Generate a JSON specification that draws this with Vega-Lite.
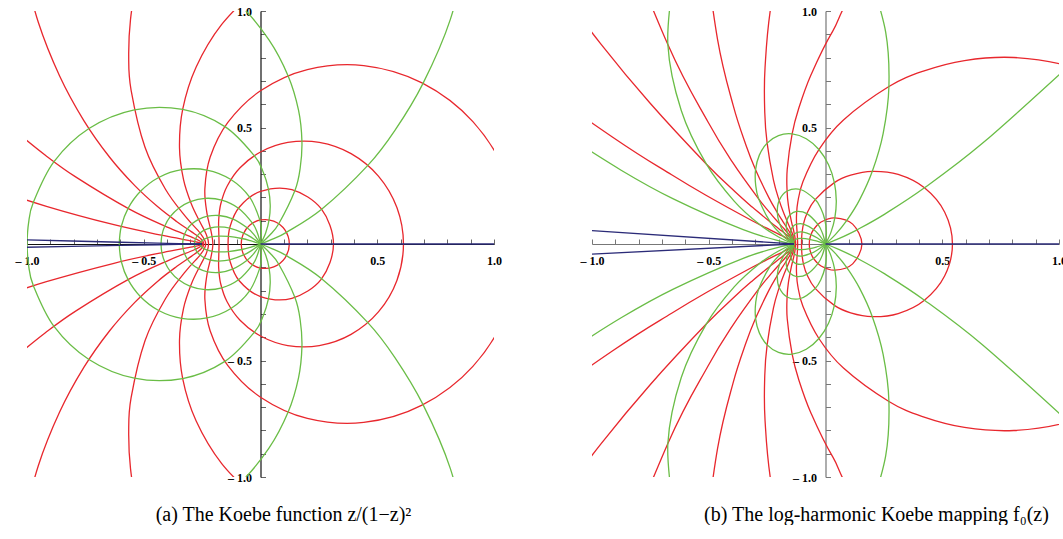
{
"$schema":"https://vega.github.io/schema/vega-lite/v6.json",
"background":"white",
"padding":{"left":15,"top":5,"right":0,"bottom":0},
"autosize":{"type":"pad"},
"spacing":78,
"config":{"view":{"stroke":null}},
"datasets":{
"a_closed":[
{"id":"r1","t":"red","i":0,"x":0.1235,"y":0},{"id":"r1","t":"red","i":1,"x":0.1045,"y":0.0604},{"id":"r1","t":"red","i":2,"x":0.0566,"y":0.0981},{"id":"r1","t":"red","i":3,"x":0,"y":0.1031},{"id":"r1","t":"red","i":4,"x":-0.0464,"y":0.0804},{"id":"r1","t":"red","i":5,"x":-0.0739,"y":0.0427},{"id":"r1","t":"red","i":6,"x":-0.0826,"y":0},{"id":"r1","t":"red","i":7,"x":-0.0739,"y":-0.0427},{"id":"r1","t":"red","i":8,"x":-0.0464,"y":-0.0804},{"id":"r1","t":"red","i":9,"x":0,"y":-0.1031},{"id":"r1","t":"red","i":10,"x":0.0566,"y":-0.0981},{"id":"r1","t":"red","i":11,"x":0.1045,"y":-0.0604},
{"id":"r2","t":"red","i":0,"x":0.3125,"y":0},{"id":"r2","t":"red","i":1,"x":0.2606,"y":0.1504},{"id":"r2","t":"red","i":2,"x":0.1345,"y":0.233},{"id":"r2","t":"red","i":3,"x":0,"y":0.2257},{"id":"r2","t":"red","i":4,"x":-0.0911,"y":0.1579},{"id":"r2","t":"red","i":5,"x":-0.1303,"y":0.0753},{"id":"r2","t":"red","i":6,"x":-0.1389,"y":0},{"id":"r2","t":"red","i":7,"x":-0.1303,"y":-0.0753},{"id":"r2","t":"red","i":8,"x":-0.0911,"y":-0.1579},{"id":"r2","t":"red","i":9,"x":0,"y":-0.2257},{"id":"r2","t":"red","i":10,"x":0.1345,"y":-0.233},{"id":"r2","t":"red","i":11,"x":0.2606,"y":-0.1504},
{"id":"r3","t":"red","i":0,"x":0.6122,"y":0},{"id":"r3","t":"red","i":1,"x":0.5842,"y":0.1565},{"id":"r3","t":"red","i":2,"x":0.505,"y":0.2916},{"id":"r3","t":"red","i":3,"x":0.3879,"y":0.3879},{"id":"r3","t":"red","i":4,"x":0.2518,"y":0.4361},{"id":"r3","t":"red","i":5,"x":0.1168,"y":0.4358},{"id":"r3","t":"red","i":6,"x":0,"y":0.3949},{"id":"r3","t":"red","i":7,"x":-0.0876,"y":0.3271},{"id":"r3","t":"red","i":8,"x":-0.1431,"y":0.2479},{"id":"r3","t":"red","i":9,"x":-0.1705,"y":0.1705},{"id":"r3","t":"red","i":10,"x":-0.179,"y":0.1033},{"id":"r3","t":"red","i":11,"x":-0.1786,"y":0.0479},{"id":"r3","t":"red","i":12,"x":-0.1775,"y":0},{"id":"r3","t":"red","i":13,"x":-0.1786,"y":-0.0479},{"id":"r3","t":"red","i":14,"x":-0.179,"y":-0.1033},{"id":"r3","t":"red","i":15,"x":-0.1705,"y":-0.1705},{"id":"r3","t":"red","i":16,"x":-0.1431,"y":-0.2479},{"id":"r3","t":"red","i":17,"x":-0.0876,"y":-0.3271},{"id":"r3","t":"red","i":18,"x":0,"y":-0.3949},{"id":"r3","t":"red","i":19,"x":0.1168,"y":-0.4358},{"id":"r3","t":"red","i":20,"x":0.2518,"y":-0.4361},{"id":"r3","t":"red","i":21,"x":0.3879,"y":-0.3879},{"id":"r3","t":"red","i":22,"x":0.505,"y":-0.2916},{"id":"r3","t":"red","i":23,"x":0.5842,"y":-0.1565},
{"id":"r4","t":"red","i":0,"x":1.1111,"y":0},{"id":"r4","t":"red","i":1,"x":1.0583,"y":0.2836},{"id":"r4","t":"red","i":2,"x":0.9096,"y":0.5252},{"id":"r4","t":"red","i":3,"x":0.6917,"y":0.6917},{"id":"r4","t":"red","i":4,"x":0.4422,"y":0.7659},{"id":"r4","t":"red","i":5,"x":0.2006,"y":0.7486},{"id":"r4","t":"red","i":6,"x":0,"y":0.6576},{"id":"r4","t":"red","i":7,"x":-0.1398,"y":0.5218},{"id":"r4","t":"red","i":8,"x":-0.2154,"y":0.3731},{"id":"r4","t":"red","i":9,"x":-0.2382,"y":0.2382},{"id":"r4","t":"red","i":10,"x":-0.2294,"y":0.1324},{"id":"r4","t":"red","i":11,"x":-0.2121,"y":0.0568},{"id":"r4","t":"red","i":12,"x":-0.2041,"y":0},{"id":"r4","t":"red","i":13,"x":-0.2121,"y":-0.0568},{"id":"r4","t":"red","i":14,"x":-0.2294,"y":-0.1324},{"id":"r4","t":"red","i":15,"x":-0.2382,"y":-0.2382},{"id":"r4","t":"red","i":16,"x":-0.2154,"y":-0.3731},{"id":"r4","t":"red","i":17,"x":-0.1398,"y":-0.5218},{"id":"r4","t":"red","i":18,"x":0,"y":-0.6576},{"id":"r4","t":"red","i":19,"x":0.2006,"y":-0.7486},{"id":"r4","t":"red","i":20,"x":0.4422,"y":-0.7659},{"id":"r4","t":"red","i":21,"x":0.6917,"y":-0.6917},{"id":"r4","t":"red","i":22,"x":0.9096,"y":-0.5252},{"id":"r4","t":"red","i":23,"x":1.0583,"y":-0.2836}
],
"a_open":[
{"id":"r5","t":"red","i":0,"x":0,"y":1.1111},{"id":"r5","t":"red","i":1,"x":-0.1661,"y":0.9422},{"id":"r5","t":"red","i":2,"x":-0.276,"y":0.7584},{"id":"r5","t":"red","i":3,"x":-0.3333,"y":0.5774},{"id":"r5","t":"red","i":4,"x":-0.3469,"y":0.4134},{"id":"r5","t":"red","i":5,"x":-0.3296,"y":0.2765},{"id":"r5","t":"red","i":6,"x":-0.2956,"y":0.1707},{"id":"r5","t":"red","i":7,"x":-0.2592,"y":0.0943},{"id":"r5","t":"red","i":8,"x":-0.2321,"y":0.0409},{"id":"r5","t":"red","i":9,"x":-0.2222,"y":0},{"id":"r5","t":"red","i":10,"x":-0.2321,"y":-0.0409},{"id":"r5","t":"red","i":11,"x":-0.2592,"y":-0.0943},{"id":"r5","t":"red","i":12,"x":-0.2956,"y":-0.1707},{"id":"r5","t":"red","i":13,"x":-0.3296,"y":-0.2765},{"id":"r5","t":"red","i":14,"x":-0.3469,"y":-0.4134},{"id":"r5","t":"red","i":15,"x":-0.3333,"y":-0.5774},{"id":"r5","t":"red","i":16,"x":-0.276,"y":-0.7584},{"id":"r5","t":"red","i":17,"x":-0.1661,"y":-0.9422},{"id":"r5","t":"red","i":18,"x":0,"y":-1.1111},
{"id":"r6","t":"red","i":0,"x":-0.4757,"y":1.3071},{"id":"r6","t":"red","i":1,"x":-0.528,"y":1.1322},{"id":"r6","t":"red","i":2,"x":-0.5567,"y":0.9642},{"id":"r6","t":"red","i":3,"x":-0.5644,"y":0.806},{"id":"r6","t":"red","i":4,"x":-0.5543,"y":0.6606},{"id":"r6","t":"red","i":5,"x":-0.4946,"y":0.415},{"id":"r6","t":"red","i":6,"x":-0.407,"y":0.235},{"id":"r6","t":"red","i":7,"x":-0.3199,"y":0.1164},{"id":"r6","t":"red","i":8,"x":-0.2571,"y":0.0453},{"id":"r6","t":"red","i":9,"x":-0.2344,"y":0},{"id":"r6","t":"red","i":10,"x":-0.2571,"y":-0.0453},{"id":"r6","t":"red","i":11,"x":-0.3199,"y":-0.1164},{"id":"r6","t":"red","i":12,"x":-0.407,"y":-0.235},{"id":"r6","t":"red","i":13,"x":-0.4946,"y":-0.415},{"id":"r6","t":"red","i":14,"x":-0.5543,"y":-0.6606},{"id":"r6","t":"red","i":15,"x":-0.5644,"y":-0.806},{"id":"r6","t":"red","i":16,"x":-0.5567,"y":-0.9642},{"id":"r6","t":"red","i":17,"x":-0.528,"y":-1.1322},{"id":"r6","t":"red","i":18,"x":-0.4757,"y":-1.3071},
{"id":"r7","t":"red","i":0,"x":-1.0208,"y":1.2166},{"id":"r7","t":"red","i":1,"x":-0.9516,"y":0.9516},{"id":"r7","t":"red","i":2,"x":-0.8608,"y":0.7223},{"id":"r7","t":"red","i":3,"x":-0.7566,"y":0.5298},{"id":"r7","t":"red","i":4,"x":-0.6469,"y":0.3735},{"id":"r7","t":"red","i":5,"x":-0.5394,"y":0.2515},{"id":"r7","t":"red","i":6,"x":-0.4411,"y":0.1605},{"id":"r7","t":"red","i":7,"x":-0.358,"y":0.0959},{"id":"r7","t":"red","i":8,"x":-0.2949,"y":0.052},{"id":"r7","t":"red","i":9,"x":-0.2556,"y":0.0224},{"id":"r7","t":"red","i":10,"x":-0.2422,"y":0},{"id":"r7","t":"red","i":11,"x":-0.2556,"y":-0.0224},{"id":"r7","t":"red","i":12,"x":-0.2949,"y":-0.052},{"id":"r7","t":"red","i":13,"x":-0.358,"y":-0.0959},{"id":"r7","t":"red","i":14,"x":-0.4411,"y":-0.1605},{"id":"r7","t":"red","i":15,"x":-0.5394,"y":-0.2515},{"id":"r7","t":"red","i":16,"x":-0.6469,"y":-0.3735},{"id":"r7","t":"red","i":17,"x":-0.7566,"y":-0.5298},{"id":"r7","t":"red","i":18,"x":-0.8608,"y":-0.7223},{"id":"r7","t":"red","i":19,"x":-0.9516,"y":-0.9516},{"id":"r7","t":"red","i":20,"x":-1.0208,"y":-1.2166},
{"id":"r8","t":"red","i":0,"x":-1.0624,"y":0.4954},{"id":"r8","t":"red","i":1,"x":-0.9227,"y":0.3822},{"id":"r8","t":"red","i":2,"x":-0.7918,"y":0.2882},{"id":"r8","t":"red","i":3,"x":-0.5635,"y":0.151},{"id":"r8","t":"red","i":4,"x":-0.3909,"y":0.0689},{"id":"r8","t":"red","i":5,"x":-0.2834,"y":0.0248},{"id":"r8","t":"red","i":6,"x":-0.2469,"y":0},{"id":"r8","t":"red","i":7,"x":-0.2834,"y":-0.0248},{"id":"r8","t":"red","i":8,"x":-0.3909,"y":-0.0689},{"id":"r8","t":"red","i":9,"x":-0.5635,"y":-0.151},{"id":"r8","t":"red","i":10,"x":-0.7918,"y":-0.2882},{"id":"r8","t":"red","i":11,"x":-0.9227,"y":-0.3822},{"id":"r8","t":"red","i":12,"x":-1.0624,"y":-0.4954},
{"id":"r9","t":"red","i":0,"x":-1.203,"y":0.2557},{"id":"r9","t":"red","i":1,"x":-0.9168,"y":0.1617},{"id":"r9","t":"red","i":2,"x":-0.6278,"y":0.0827},{"id":"r9","t":"red","i":3,"x":-0.4187,"y":0.0366},{"id":"r9","t":"red","i":4,"x":-0.2917,"y":0.0127},{"id":"r9","t":"red","i":5,"x":-0.2493,"y":0},{"id":"r9","t":"red","i":6,"x":-0.2917,"y":-0.0127},{"id":"r9","t":"red","i":7,"x":-0.4187,"y":-0.0366},{"id":"r9","t":"red","i":8,"x":-0.6278,"y":-0.0827},{"id":"r9","t":"red","i":9,"x":-0.9168,"y":-0.1617},{"id":"r9","t":"red","i":10,"x":-1.203,"y":-0.2557},
{"id":"g20","t":"green","i":0,"x":0,"y":0},{"id":"g20","t":"green","i":1,"x":0.051,"y":0.0207},{"id":"g20","t":"green","i":2,"x":0.1109,"y":0.0501},{"id":"g20","t":"green","i":3,"x":0.2618,"y":0.1489},{"id":"g20","t":"green","i":4,"x":0.4597,"y":0.3372},{"id":"g20","t":"green","i":5,"x":0.575,"y":0.4864},{"id":"g20","t":"green","i":6,"x":0.6961,"y":0.6895},{"id":"g20","t":"green","i":7,"x":0.8131,"y":0.9642},{"id":"g20","t":"green","i":8,"x":0.9066,"y":1.3318},
{"id":"g20m","t":"green","i":0,"x":0,"y":0},{"id":"g20m","t":"green","i":1,"x":0.051,"y":-0.0207},{"id":"g20m","t":"green","i":2,"x":0.1109,"y":-0.0501},{"id":"g20m","t":"green","i":3,"x":0.2618,"y":-0.1489},{"id":"g20m","t":"green","i":4,"x":0.4597,"y":-0.3372},{"id":"g20m","t":"green","i":5,"x":0.575,"y":-0.4864},{"id":"g20m","t":"green","i":6,"x":0.6961,"y":-0.6895},{"id":"g20m","t":"green","i":7,"x":0.8131,"y":-0.9642},{"id":"g20m","t":"green","i":8,"x":0.9066,"y":-1.3318},
{"id":"g40","t":"green","i":0,"x":0,"y":0},{"id":"g40","t":"green","i":1,"x":0.039,"y":0.0374},{"id":"g40","t":"green","i":2,"x":0.0782,"y":0.0867},{"id":"g40","t":"green","i":3,"x":0.1474,"y":0.2293},{"id":"g40","t":"green","i":4,"x":0.17,"y":0.3263},{"id":"g40","t":"green","i":5,"x":0.1774,"y":0.4416},{"id":"g40","t":"green","i":6,"x":0.1628,"y":0.5744},{"id":"g40","t":"green","i":7,"x":0.1184,"y":0.7214},{"id":"g40","t":"green","i":8,"x":0.0362,"y":0.8764},{"id":"g40","t":"green","i":9,"x":-0.0906,"y":1.0291},{"id":"g40","t":"green","i":10,"x":-0.2659,"y":1.1661},
{"id":"g40m","t":"green","i":0,"x":0,"y":0},{"id":"g40m","t":"green","i":1,"x":0.039,"y":-0.0374},{"id":"g40m","t":"green","i":2,"x":0.0782,"y":-0.0867},{"id":"g40m","t":"green","i":3,"x":0.1474,"y":-0.2293},{"id":"g40m","t":"green","i":4,"x":0.17,"y":-0.3263},{"id":"g40m","t":"green","i":5,"x":0.1774,"y":-0.4416},{"id":"g40m","t":"green","i":6,"x":0.1628,"y":-0.5744},{"id":"g40m","t":"green","i":7,"x":0.1184,"y":-0.7214},{"id":"g40m","t":"green","i":8,"x":0.0362,"y":-0.8764},{"id":"g40m","t":"green","i":9,"x":-0.0906,"y":-1.0291},{"id":"g40m","t":"green","i":10,"x":-0.2659,"y":-1.1661},
{"id":"g60","t":"green","i":0,"x":0,"y":0},{"id":"g60","t":"green","i":1,"x":0.0221,"y":0.0476},{"id":"g60","t":"green","i":2,"x":0.0368,"y":0.1035},{"id":"g60","t":"green","i":3,"x":0.0416,"y":0.1668},{"id":"g60","t":"green","i":4,"x":0.034,"y":0.2357},{"id":"g60","t":"green","i":5,"x":0.0118,"y":0.3075},{"id":"g60","t":"green","i":6,"x":-0.0264,"y":0.3788},{"id":"g60","t":"green","i":7,"x":-0.1524,"y":0.5038},{"id":"g60","t":"green","i":8,"x":-0.3333,"y":0.5774},{"id":"g60","t":"green","i":9,"x":-0.5402,"y":0.5758},{"id":"g60","t":"green","i":10,"x":-0.7347,"y":0.4954},{"id":"g60","t":"green","i":11,"x":-0.8844,"y":0.3535},{"id":"g60","t":"green","i":12,"x":-0.9727,"y":0.1788},{"id":"g60","t":"green","i":13,"x":-0.9935,"y":0.0884},{"id":"g60","t":"green","i":14,"x":-1,"y":0},
{"id":"g60m","t":"green","i":0,"x":0,"y":0},{"id":"g60m","t":"green","i":1,"x":0.0221,"y":-0.0476},{"id":"g60m","t":"green","i":2,"x":0.0368,"y":-0.1035},{"id":"g60m","t":"green","i":3,"x":0.0416,"y":-0.1668},{"id":"g60m","t":"green","i":4,"x":0.034,"y":-0.2357},{"id":"g60m","t":"green","i":5,"x":0.0118,"y":-0.3075},{"id":"g60m","t":"green","i":6,"x":-0.0264,"y":-0.3788},{"id":"g60m","t":"green","i":7,"x":-0.1524,"y":-0.5038},{"id":"g60m","t":"green","i":8,"x":-0.3333,"y":-0.5774},{"id":"g60m","t":"green","i":9,"x":-0.5402,"y":-0.5758},{"id":"g60m","t":"green","i":10,"x":-0.7347,"y":-0.4954},{"id":"g60m","t":"green","i":11,"x":-0.8844,"y":-0.3535},{"id":"g60m","t":"green","i":12,"x":-0.9727,"y":-0.1788},{"id":"g60m","t":"green","i":13,"x":-0.9935,"y":-0.0884},{"id":"g60m","t":"green","i":14,"x":-1,"y":0},
{"id":"g80","t":"green","i":0,"x":0,"y":0},{"id":"g80","t":"green","i":1,"x":0.0038,"y":0.0506},{"id":"g80","t":"green","i":2,"x":-0.0026,"y":0.1025},{"id":"g80","t":"green","i":3,"x":-0.0466,"y":0.2007},{"id":"g80","t":"green","i":4,"x":-0.1268,"y":0.2767},{"id":"g80","t":"green","i":5,"x":-0.2296,"y":0.3174},{"id":"g80","t":"green","i":6,"x":-0.3379,"y":0.3188},{"id":"g80","t":"green","i":7,"x":-0.4361,"y":0.2852},{"id":"g80","t":"green","i":8,"x":-0.5138,"y":0.2261},{"id":"g80","t":"green","i":9,"x":-0.5671,"y":0.1529},{"id":"g80","t":"green","i":10,"x":-0.5963,"y":0.0751},{"id":"g80","t":"green","i":11,"x":-0.6051,"y":0},
{"id":"g80m","t":"green","i":0,"x":0,"y":0},{"id":"g80m","t":"green","i":1,"x":0.0038,"y":-0.0506},{"id":"g80m","t":"green","i":2,"x":-0.0026,"y":-0.1025},{"id":"g80m","t":"green","i":3,"x":-0.0466,"y":-0.2007},{"id":"g80m","t":"green","i":4,"x":-0.1268,"y":-0.2767},{"id":"g80m","t":"green","i":5,"x":-0.2296,"y":-0.3174},{"id":"g80m","t":"green","i":6,"x":-0.3379,"y":-0.3188},{"id":"g80m","t":"green","i":7,"x":-0.4361,"y":-0.2852},{"id":"g80m","t":"green","i":8,"x":-0.5138,"y":-0.2261},{"id":"g80m","t":"green","i":9,"x":-0.5671,"y":-0.1529},{"id":"g80m","t":"green","i":10,"x":-0.5963,"y":-0.0751},{"id":"g80m","t":"green","i":11,"x":-0.6051,"y":0},
{"id":"g100","t":"green","i":0,"x":0,"y":0},{"id":"g100","t":"green","i":1,"x":-0.0132,"y":0.0472},{"id":"g100","t":"green","i":2,"x":-0.0344,"y":0.0893},{"id":"g100","t":"green","i":3,"x":-0.0943,"y":0.1536},{"id":"g100","t":"green","i":4,"x":-0.166,"y":0.1885},{"id":"g100","t":"green","i":5,"x":-0.2374,"y":0.1961},{"id":"g100","t":"green","i":6,"x":-0.3003,"y":0.1822},{"id":"g100","t":"green","i":7,"x":-0.3503,"y":0.1537},{"id":"g100","t":"green","i":8,"x":-0.3866,"y":0.1171},{"id":"g100","t":"green","i":9,"x":-0.4099,"y":0.0771},{"id":"g100","t":"green","i":10,"x":-0.4224,"y":0.0374},{"id":"g100","t":"green","i":11,"x":-0.426,"y":0},
{"id":"g100m","t":"green","i":0,"x":0,"y":0},{"id":"g100m","t":"green","i":1,"x":-0.0132,"y":-0.0472},{"id":"g100m","t":"green","i":2,"x":-0.0344,"y":-0.0893},{"id":"g100m","t":"green","i":3,"x":-0.0943,"y":-0.1536},{"id":"g100m","t":"green","i":4,"x":-0.166,"y":-0.1885},{"id":"g100m","t":"green","i":5,"x":-0.2374,"y":-0.1961},{"id":"g100m","t":"green","i":6,"x":-0.3003,"y":-0.1822},{"id":"g100m","t":"green","i":7,"x":-0.3503,"y":-0.1537},{"id":"g100m","t":"green","i":8,"x":-0.3866,"y":-0.1171},{"id":"g100m","t":"green","i":9,"x":-0.4099,"y":-0.0771},{"id":"g100m","t":"green","i":10,"x":-0.4224,"y":-0.0374},{"id":"g100m","t":"green","i":11,"x":-0.426,"y":0},
{"id":"g120","t":"green","i":0,"x":0,"y":0},{"id":"g120","t":"green","i":1,"x":-0.0271,"y":0.039},{"id":"g120","t":"green","i":2,"x":-0.0572,"y":0.0696},{"id":"g120","t":"green","i":3,"x":-0.1197,"y":0.1081},{"id":"g120","t":"green","i":4,"x":-0.1778,"y":0.1224},{"id":"g120","t":"green","i":5,"x":-0.2268,"y":0.1196},{"id":"g120","t":"green","i":6,"x":-0.2653,"y":0.106},{"id":"g120","t":"green","i":7,"x":-0.2936,"y":0.0866},{"id":"g120","t":"green","i":8,"x":-0.3131,"y":0.0645},{"id":"g120","t":"green","i":9,"x":-0.3252,"y":0.0419},{"id":"g120","t":"green","i":10,"x":-0.3315,"y":0.0202},{"id":"g120","t":"green","i":11,"x":-0.3333,"y":0},
{"id":"g120m","t":"green","i":0,"x":0,"y":0},{"id":"g120m","t":"green","i":1,"x":-0.0271,"y":-0.039},{"id":"g120m","t":"green","i":2,"x":-0.0572,"y":-0.0696},{"id":"g120m","t":"green","i":3,"x":-0.1197,"y":-0.1081},{"id":"g120m","t":"green","i":4,"x":-0.1778,"y":-0.1224},{"id":"g120m","t":"green","i":5,"x":-0.2268,"y":-0.1196},{"id":"g120m","t":"green","i":6,"x":-0.2653,"y":-0.106},{"id":"g120m","t":"green","i":7,"x":-0.2936,"y":-0.0866},{"id":"g120m","t":"green","i":8,"x":-0.3131,"y":-0.0645},{"id":"g120m","t":"green","i":9,"x":-0.3252,"y":-0.0419},{"id":"g120m","t":"green","i":10,"x":-0.3315,"y":-0.0202},{"id":"g120m","t":"green","i":11,"x":-0.3333,"y":0},
{"id":"g140","t":"green","i":0,"x":0,"y":0},{"id":"g140","t":"green","i":1,"x":-0.0373,"y":0.0275},{"id":"g140","t":"green","i":2,"x":-0.072,"y":0.047},{"id":"g140","t":"green","i":3,"x":-0.132,"y":0.0681},{"id":"g140","t":"green","i":4,"x":-0.1793,"y":0.0731},{"id":"g140","t":"green","i":5,"x":-0.2149,"y":0.0687},{"id":"g140","t":"green","i":6,"x":-0.2408,"y":0.0593},{"id":"g140","t":"green","i":7,"x":-0.2589,"y":0.0475},{"id":"g140","t":"green","i":8,"x":-0.2709,"y":0.035},{"id":"g140","t":"green","i":9,"x":-0.2783,"y":0.0225},{"id":"g140","t":"green","i":10,"x":-0.282,"y":0.0108},{"id":"g140","t":"green","i":11,"x":-0.2831,"y":0},
{"id":"g140m","t":"green","i":0,"x":0,"y":0},{"id":"g140m","t":"green","i":1,"x":-0.0373,"y":-0.0275},{"id":"g140m","t":"green","i":2,"x":-0.072,"y":-0.047},{"id":"g140m","t":"green","i":3,"x":-0.132,"y":-0.0681},{"id":"g140m","t":"green","i":4,"x":-0.1793,"y":-0.0731},{"id":"g140m","t":"green","i":5,"x":-0.2149,"y":-0.0687},{"id":"g140m","t":"green","i":6,"x":-0.2408,"y":-0.0593},{"id":"g140m","t":"green","i":7,"x":-0.2589,"y":-0.0475},{"id":"g140m","t":"green","i":8,"x":-0.2709,"y":-0.035},{"id":"g140m","t":"green","i":9,"x":-0.2783,"y":-0.0225},{"id":"g140m","t":"green","i":10,"x":-0.282,"y":-0.0108},{"id":"g140m","t":"green","i":11,"x":-0.2831,"y":0},
{"id":"g160","t":"green","i":0,"x":0,"y":0},{"id":"g160","t":"green","i":1,"x":-0.0433,"y":0.0142},{"id":"g160","t":"green","i":2,"x":-0.0801,"y":0.0236},{"id":"g160","t":"green","i":3,"x":-0.1374,"y":0.0328},{"id":"g160","t":"green","i":4,"x":-0.1782,"y":0.0341},{"id":"g160","t":"green","i":5,"x":-0.2069,"y":0.0314},{"id":"g160","t":"green","i":6,"x":-0.2268,"y":0.0268},{"id":"g160","t":"green","i":7,"x":-0.2403,"y":0.0212},{"id":"g160","t":"green","i":8,"x":-0.249,"y":0.0155},{"id":"g160","t":"green","i":9,"x":-0.2543,"y":0.01},{"id":"g160","t":"green","i":10,"x":-0.2578,"y":0},
{"id":"g160m","t":"green","i":0,"x":0,"y":0},{"id":"g160m","t":"green","i":1,"x":-0.0433,"y":-0.0142},{"id":"g160m","t":"green","i":2,"x":-0.0801,"y":-0.0236},{"id":"g160m","t":"green","i":3,"x":-0.1374,"y":-0.0328},{"id":"g160m","t":"green","i":4,"x":-0.1782,"y":-0.0341},{"id":"g160m","t":"green","i":5,"x":-0.2069,"y":-0.0314},{"id":"g160m","t":"green","i":6,"x":-0.2268,"y":-0.0268},{"id":"g160m","t":"green","i":7,"x":-0.2403,"y":-0.0212},{"id":"g160m","t":"green","i":8,"x":-0.249,"y":-0.0155},{"id":"g160m","t":"green","i":9,"x":-0.2543,"y":-0.01},{"id":"g160m","t":"green","i":10,"x":-0.2578,"y":0},
{"id":"n0","t":"navy","i":0,"x":0,"y":0},{"id":"n0","t":"navy","i":1,"x":1.2,"y":0},
{"id":"nlu","t":"navy","i":0,"x":-1.05,"y":0.019},{"id":"nlu","t":"navy","i":1,"x":-0.6,"y":0.0075},{"id":"nlu","t":"navy","i":2,"x":-0.4,"y":0.003},{"id":"nlu","t":"navy","i":3,"x":-0.25,"y":0},
{"id":"nll","t":"navy","i":0,"x":-1.05,"y":-0.0148},{"id":"nll","t":"navy","i":1,"x":-0.6,"y":-0.0062},{"id":"nll","t":"navy","i":2,"x":-0.4,"y":-0.0025},{"id":"nll","t":"navy","i":3,"x":-0.25,"y":0}
],
"b_closed":[
{"id":"r1","t":"red","i":0,"x":0.156,"y":0},{"id":"r1","t":"red","i":1,"x":0.1163,"y":0.0853},{"id":"r1","t":"red","i":2,"x":0.04,"y":0.1123},{"id":"r1","t":"red","i":3,"x":-0.019,"y":0.0942},{"id":"r1","t":"red","i":4,"x":-0.0512,"y":0.0622},{"id":"r1","t":"red","i":5,"x":-0.0655,"y":0.0302},{"id":"r1","t":"red","i":6,"x":-0.0695,"y":0},{"id":"r1","t":"red","i":7,"x":-0.0655,"y":-0.0302},{"id":"r1","t":"red","i":8,"x":-0.0512,"y":-0.0622},{"id":"r1","t":"red","i":9,"x":-0.019,"y":-0.0942},{"id":"r1","t":"red","i":10,"x":0.04,"y":-0.1123},{"id":"r1","t":"red","i":11,"x":0.1163,"y":-0.0853},
{"id":"r2","t":"red","i":0,"x":0.5437,"y":0},{"id":"r2","t":"red","i":1,"x":0.5106,"y":0.1364},{"id":"r2","t":"red","i":2,"x":0.4238,"y":0.241},{"id":"r2","t":"red","i":3,"x":0.3113,"y":0.2984},{"id":"r2","t":"red","i":4,"x":0.2005,"y":0.3119},{"id":"r2","t":"red","i":5,"x":0.1078,"y":0.2954},{"id":"r2","t":"red","i":6,"x":0.038,"y":0.2634},{"id":"r2","t":"red","i":7,"x":-0.0442,"y":0.1906},{"id":"r2","t":"red","i":8,"x":-0.08,"y":0.1302},{"id":"r2","t":"red","i":9,"x":-0.0944,"y":0.0854},{"id":"r2","t":"red","i":10,"x":-0.1001,"y":0.0516},{"id":"r2","t":"red","i":11,"x":-0.1022,"y":0.0244},{"id":"r2","t":"red","i":12,"x":-0.1027,"y":0},{"id":"r2","t":"red","i":13,"x":-0.1022,"y":-0.0244},{"id":"r2","t":"red","i":14,"x":-0.1001,"y":-0.0516},{"id":"r2","t":"red","i":15,"x":-0.0944,"y":-0.0854},{"id":"r2","t":"red","i":16,"x":-0.08,"y":-0.1302},{"id":"r2","t":"red","i":17,"x":-0.0442,"y":-0.1906},{"id":"r2","t":"red","i":18,"x":0.038,"y":-0.2634},{"id":"r2","t":"red","i":19,"x":0.1078,"y":-0.2954},{"id":"r2","t":"red","i":20,"x":0.2005,"y":-0.3119},{"id":"r2","t":"red","i":21,"x":0.3113,"y":-0.2984},{"id":"r2","t":"red","i":22,"x":0.4238,"y":-0.241},{"id":"r2","t":"red","i":23,"x":0.5106,"y":-0.1364},
{"id":"r3","t":"red","i":0,"x":1.6658,"y":0},{"id":"r3","t":"red","i":1,"x":1.4765,"y":0.4928},{"id":"r3","t":"red","i":2,"x":1.2737,"y":0.6624},{"id":"r3","t":"red","i":3,"x":1.0405,"y":0.7632},{"id":"r3","t":"red","i":4,"x":0.8071,"y":0.8004},{"id":"r3","t":"red","i":5,"x":0.5953,"y":0.7872},{"id":"r3","t":"red","i":6,"x":0.4158,"y":0.7408},{"id":"r3","t":"red","i":7,"x":0.2716,"y":0.676},{"id":"r3","t":"red","i":8,"x":0.0769,"y":0.5325},{"id":"r3","t":"red","i":9,"x":-0.0283,"y":0.4055},{"id":"r3","t":"red","i":10,"x":-0.0968,"y":0.2676},{"id":"r3","t":"red","i":11,"x":-0.1187,"y":0.18},{"id":"r3","t":"red","i":12,"x":-0.1241,"y":0.1235},{"id":"r3","t":"red","i":13,"x":-0.1239,"y":0.0853},{"id":"r3","t":"red","i":14,"x":-0.1206,"y":0.0356},{"id":"r3","t":"red","i":15,"x":-0.1192,"y":0},{"id":"r3","t":"red","i":16,"x":-0.1206,"y":-0.0356},{"id":"r3","t":"red","i":17,"x":-0.1239,"y":-0.0853},{"id":"r3","t":"red","i":18,"x":-0.1241,"y":-0.1235},{"id":"r3","t":"red","i":19,"x":-0.1187,"y":-0.18},{"id":"r3","t":"red","i":20,"x":-0.0968,"y":-0.2676},{"id":"r3","t":"red","i":21,"x":-0.0283,"y":-0.4055},{"id":"r3","t":"red","i":22,"x":0.0769,"y":-0.5325},{"id":"r3","t":"red","i":23,"x":0.2716,"y":-0.676},{"id":"r3","t":"red","i":24,"x":0.4158,"y":-0.7408},{"id":"r3","t":"red","i":25,"x":0.5953,"y":-0.7872},{"id":"r3","t":"red","i":26,"x":0.8071,"y":-0.8004},{"id":"r3","t":"red","i":27,"x":1.0405,"y":-0.7632},{"id":"r3","t":"red","i":28,"x":1.2737,"y":-0.6624},{"id":"r3","t":"red","i":29,"x":1.4765,"y":-0.4928}
],
"b_open":[
{"id":"r4","t":"red","i":0,"x":0.8644,"y":1.7742},{"id":"r4","t":"red","i":1,"x":0.1891,"y":1.1512},{"id":"r4","t":"red","i":2,"x":0.0311,"y":0.9139},{"id":"r4","t":"red","i":3,"x":-0.0615,"y":0.7274},{"id":"r4","t":"red","i":4,"x":-0.1142,"y":0.5834},{"id":"r4","t":"red","i":5,"x":-0.1429,"y":0.4726},{"id":"r4","t":"red","i":6,"x":-0.1639,"y":0.3208},{"id":"r4","t":"red","i":7,"x":-0.1645,"y":0.2273},{"id":"r4","t":"red","i":8,"x":-0.159,"y":0.1668},{"id":"r4","t":"red","i":9,"x":-0.1459,"y":0.0962},{"id":"r4","t":"red","i":10,"x":-0.1346,"y":0.0493},{"id":"r4","t":"red","i":11,"x":-0.1276,"y":0},{"id":"r4","t":"red","i":12,"x":-0.1346,"y":-0.0493},{"id":"r4","t":"red","i":13,"x":-0.1459,"y":-0.0962},{"id":"r4","t":"red","i":14,"x":-0.159,"y":-0.1668},{"id":"r4","t":"red","i":15,"x":-0.1645,"y":-0.2273},{"id":"r4","t":"red","i":16,"x":-0.1639,"y":-0.3208},{"id":"r4","t":"red","i":17,"x":-0.1429,"y":-0.4726},{"id":"r4","t":"red","i":18,"x":-0.1142,"y":-0.5834},{"id":"r4","t":"red","i":19,"x":-0.0615,"y":-0.7274},{"id":"r4","t":"red","i":20,"x":0.0311,"y":-0.9139},{"id":"r4","t":"red","i":21,"x":0.1891,"y":-1.1512},{"id":"r4","t":"red","i":22,"x":0.8644,"y":-1.7742},
{"id":"r5","t":"red","i":0,"x":-0.1316,"y":1.4955},{"id":"r5","t":"red","i":1,"x":-0.2294,"y":1.0475},{"id":"r5","t":"red","i":2,"x":-0.2589,"y":0.7572},{"id":"r5","t":"red","i":3,"x":-0.2601,"y":0.5645},{"id":"r5","t":"red","i":4,"x":-0.25,"y":0.433},{"id":"r5","t":"red","i":5,"x":-0.2228,"y":0.2739},{"id":"r5","t":"red","i":6,"x":-0.1983,"y":0.1871},{"id":"r5","t":"red","i":7,"x":-0.1797,"y":0.1348},{"id":"r5","t":"red","i":8,"x":-0.1557,"y":0.0768},{"id":"r5","t":"red","i":9,"x":-0.1402,"y":0.0395},{"id":"r5","t":"red","i":10,"x":-0.1318,"y":0},{"id":"r5","t":"red","i":11,"x":-0.1402,"y":-0.0395},{"id":"r5","t":"red","i":12,"x":-0.1557,"y":-0.0768},{"id":"r5","t":"red","i":13,"x":-0.1797,"y":-0.1348},{"id":"r5","t":"red","i":14,"x":-0.1983,"y":-0.1871},{"id":"r5","t":"red","i":15,"x":-0.2228,"y":-0.2739},{"id":"r5","t":"red","i":16,"x":-0.25,"y":-0.433},{"id":"r5","t":"red","i":17,"x":-0.2601,"y":-0.5645},{"id":"r5","t":"red","i":18,"x":-0.2589,"y":-0.7572},{"id":"r5","t":"red","i":19,"x":-0.2294,"y":-1.0475},{"id":"r5","t":"red","i":20,"x":-0.1316,"y":-1.4955},
{"id":"r6","t":"red","i":0,"x":-0.532,"y":1.3832},{"id":"r6","t":"red","i":1,"x":-0.4622,"y":0.8775},{"id":"r6","t":"red","i":2,"x":-0.3954,"y":0.595},{"id":"r6","t":"red","i":3,"x":-0.3413,"y":0.4262},{"id":"r6","t":"red","i":4,"x":-0.2995,"y":0.3189},{"id":"r6","t":"red","i":5,"x":-0.242,"y":0.1979},{"id":"r6","t":"red","i":6,"x":-0.2065,"y":0.1351},{"id":"r6","t":"red","i":7,"x":-0.1836,"y":0.0979},{"id":"r6","t":"red","i":8,"x":-0.1574,"y":0.0568},{"id":"r6","t":"red","i":9,"x":-0.1419,"y":0.0297},{"id":"r6","t":"red","i":10,"x":-0.1339,"y":0},{"id":"r6","t":"red","i":11,"x":-0.1419,"y":-0.0297},{"id":"r6","t":"red","i":12,"x":-0.1574,"y":-0.0568},{"id":"r6","t":"red","i":13,"x":-0.1836,"y":-0.0979},{"id":"r6","t":"red","i":14,"x":-0.2065,"y":-0.1351},{"id":"r6","t":"red","i":15,"x":-0.242,"y":-0.1979},{"id":"r6","t":"red","i":16,"x":-0.2995,"y":-0.3189},{"id":"r6","t":"red","i":17,"x":-0.3413,"y":-0.4262},{"id":"r6","t":"red","i":18,"x":-0.3954,"y":-0.595},{"id":"r6","t":"red","i":19,"x":-0.4622,"y":-0.8775},{"id":"r6","t":"red","i":20,"x":-0.532,"y":-1.3832},
{"id":"r7","t":"red","i":0,"x":-0.9678,"y":1.5773},{"id":"r7","t":"red","i":1,"x":-0.6751,"y":0.8558},{"id":"r7","t":"red","i":2,"x":-0.5043,"y":0.5256},{"id":"r7","t":"red","i":3,"x":-0.3999,"y":0.3532},{"id":"r7","t":"red","i":4,"x":-0.2857,"y":0.1926},{"id":"r7","t":"red","i":5,"x":-0.2287,"y":0.1231},{"id":"r7","t":"red","i":6,"x":-0.1965,"y":0.0865},{"id":"r7","t":"red","i":7,"x":-0.1765,"y":0.0643},{"id":"r7","t":"red","i":8,"x":-0.1543,"y":0.0387},{"id":"r7","t":"red","i":9,"x":-0.1414,"y":0.0208},{"id":"r7","t":"red","i":10,"x":-0.1349,"y":0},{"id":"r7","t":"red","i":11,"x":-0.1414,"y":-0.0208},{"id":"r7","t":"red","i":12,"x":-0.1543,"y":-0.0387},{"id":"r7","t":"red","i":13,"x":-0.1765,"y":-0.0643},{"id":"r7","t":"red","i":14,"x":-0.1965,"y":-0.0865},{"id":"r7","t":"red","i":15,"x":-0.2287,"y":-0.1231},{"id":"r7","t":"red","i":16,"x":-0.2857,"y":-0.1926},{"id":"r7","t":"red","i":17,"x":-0.3999,"y":-0.3532},{"id":"r7","t":"red","i":18,"x":-0.5043,"y":-0.5256},{"id":"r7","t":"red","i":19,"x":-0.6751,"y":-0.8558},{"id":"r7","t":"red","i":20,"x":-0.9678,"y":-1.5773},
{"id":"r8","t":"red","i":0,"x":-1.2971,"y":1.2992},{"id":"r8","t":"red","i":1,"x":-0.9625,"y":0.859},{"id":"r8","t":"red","i":2,"x":-0.7509,"y":0.6039},{"id":"r8","t":"red","i":3,"x":-0.5106,"y":0.3436},{"id":"r8","t":"red","i":4,"x":-0.3861,"y":0.2232},{"id":"r8","t":"red","i":5,"x":-0.3137,"y":0.1585},{"id":"r8","t":"red","i":6,"x":-0.2369,"y":0.0947},{"id":"r8","t":"red","i":7,"x":-0.199,"y":0.0648},{"id":"r8","t":"red","i":8,"x":-0.1638,"y":0.0369},{"id":"r8","t":"red","i":9,"x":-0.1442,"y":0.0186},{"id":"r8","t":"red","i":10,"x":-0.1352,"y":0},{"id":"r8","t":"red","i":11,"x":-0.1442,"y":-0.0186},{"id":"r8","t":"red","i":12,"x":-0.1638,"y":-0.0369},{"id":"r8","t":"red","i":13,"x":-0.199,"y":-0.0648},{"id":"r8","t":"red","i":14,"x":-0.2369,"y":-0.0947},{"id":"r8","t":"red","i":15,"x":-0.3137,"y":-0.1585},{"id":"r8","t":"red","i":16,"x":-0.3861,"y":-0.2232},{"id":"r8","t":"red","i":17,"x":-0.5106,"y":-0.3436},{"id":"r8","t":"red","i":18,"x":-0.7509,"y":-0.6039},{"id":"r8","t":"red","i":19,"x":-0.9625,"y":-0.859},{"id":"r8","t":"red","i":20,"x":-1.2971,"y":-1.2992},
{"id":"r9","t":"red","i":0,"x":-1.555,"y":0.9089},{"id":"r9","t":"red","i":1,"x":-0.9129,"y":0.4594},{"id":"r9","t":"red","i":2,"x":-0.6589,"y":0.2972},{"id":"r9","t":"red","i":3,"x":-0.5119,"y":0.2093},{"id":"r9","t":"red","i":4,"x":-0.3139,"y":0.0998},{"id":"r9","t":"red","i":5,"x":-0.2392,"y":0.0618},{"id":"r9","t":"red","i":6,"x":-0.1819,"y":0.0335},{"id":"r9","t":"red","i":7,"x":-0.1494,"y":0.0158},{"id":"r9","t":"red","i":8,"x":-0.1353,"y":0},{"id":"r9","t":"red","i":9,"x":-0.1494,"y":-0.0158},{"id":"r9","t":"red","i":10,"x":-0.1819,"y":-0.0335},{"id":"r9","t":"red","i":11,"x":-0.2392,"y":-0.0618},{"id":"r9","t":"red","i":12,"x":-0.3139,"y":-0.0998},{"id":"r9","t":"red","i":13,"x":-0.5119,"y":-0.2093},{"id":"r9","t":"red","i":14,"x":-0.6589,"y":-0.2972},{"id":"r9","t":"red","i":15,"x":-0.9129,"y":-0.4594},{"id":"r9","t":"red","i":16,"x":-1.555,"y":-0.9089},
{"id":"g20a","t":"green","i":0,"x":0,"y":0},{"id":"g20a","t":"green","i":1,"x":0.0564,"y":0.0228},{"id":"g20a","t":"green","i":2,"x":0.1371,"y":0.062},{"id":"g20a","t":"green","i":3,"x":0.2538,"y":0.1284},{"id":"g20a","t":"green","i":4,"x":0.4238,"y":0.241},{"id":"g20a","t":"green","i":5,"x":0.6732,"y":0.4331},{"id":"g20a","t":"green","i":6,"x":1.0405,"y":0.7632},
{"id":"g20am","t":"green","i":0,"x":0,"y":0},{"id":"g20am","t":"green","i":1,"x":0.0564,"y":-0.0228},{"id":"g20am","t":"green","i":2,"x":0.1371,"y":-0.062},{"id":"g20am","t":"green","i":3,"x":0.2538,"y":-0.1284},{"id":"g20am","t":"green","i":4,"x":0.4238,"y":-0.241},{"id":"g20am","t":"green","i":5,"x":0.6732,"y":-0.4331},{"id":"g20am","t":"green","i":6,"x":1.0405,"y":-0.7632},
{"id":"g20b","t":"green","i":0,"x":-1.1626,"y":0.4994},{"id":"g20b","t":"green","i":1,"x":-0.8752,"y":0.3166},{"id":"g20b","t":"green","i":2,"x":-0.6518,"y":0.1935},{"id":"g20b","t":"green","i":3,"x":-0.3525,"y":0.0614},{"id":"g20b","t":"green","i":4,"x":-0.1866,"y":0.0106},{"id":"g20b","t":"green","i":5,"x":-0.1353,"y":0},
{"id":"g20bm","t":"green","i":0,"x":-1.1626,"y":-0.4994},{"id":"g20bm","t":"green","i":1,"x":-0.8752,"y":-0.3166},{"id":"g20bm","t":"green","i":2,"x":-0.6518,"y":-0.1935},{"id":"g20bm","t":"green","i":3,"x":-0.3525,"y":-0.0614},{"id":"g20bm","t":"green","i":4,"x":-0.1866,"y":-0.0106},{"id":"g20bm","t":"green","i":5,"x":-0.1353,"y":0},
{"id":"g40a","t":"green","i":0,"x":0,"y":0},{"id":"g40a","t":"green","i":1,"x":0.0421,"y":0.0404},{"id":"g40a","t":"green","i":2,"x":0.0914,"y":0.1014},{"id":"g40a","t":"green","i":3,"x":0.1458,"y":0.1895},{"id":"g40a","t":"green","i":4,"x":0.2005,"y":0.3119},{"id":"g40a","t":"green","i":5,"x":0.2468,"y":0.4739},{"id":"g40a","t":"green","i":6,"x":0.2716,"y":0.676},{"id":"g40a","t":"green","i":7,"x":0.2577,"y":0.9094},{"id":"g40a","t":"green","i":8,"x":0.1891,"y":1.1512},
{"id":"g40am","t":"green","i":0,"x":0,"y":0},{"id":"g40am","t":"green","i":1,"x":0.0421,"y":-0.0404},{"id":"g40am","t":"green","i":2,"x":0.0914,"y":-0.1014},{"id":"g40am","t":"green","i":3,"x":0.1458,"y":-0.1895},{"id":"g40am","t":"green","i":4,"x":0.2005,"y":-0.3119},{"id":"g40am","t":"green","i":5,"x":0.2468,"y":-0.4739},{"id":"g40am","t":"green","i":6,"x":0.2716,"y":-0.676},{"id":"g40am","t":"green","i":7,"x":0.2577,"y":-0.9094},{"id":"g40am","t":"green","i":8,"x":0.1891,"y":-1.1512},
{"id":"g40b","t":"green","i":0,"x":-0.6498,"y":1.1471},{"id":"g40b","t":"green","i":1,"x":-0.6751,"y":0.8558},{"id":"g40b","t":"green","i":2,"x":-0.6177,"y":0.5731},{"id":"g40b","t":"green","i":3,"x":-0.5106,"y":0.3436},{"id":"g40b","t":"green","i":4,"x":-0.3902,"y":0.1829},{"id":"g40b","t":"green","i":5,"x":-0.282,"y":0.0833},{"id":"g40b","t":"green","i":6,"x":-0.1969,"y":0.0279},{"id":"g40b","t":"green","i":7,"x":-0.1353,"y":0},
{"id":"g40bm","t":"green","i":0,"x":-0.6498,"y":-1.1471},{"id":"g40bm","t":"green","i":1,"x":-0.6751,"y":-0.8558},{"id":"g40bm","t":"green","i":2,"x":-0.6177,"y":-0.5731},{"id":"g40bm","t":"green","i":3,"x":-0.5106,"y":-0.3436},{"id":"g40bm","t":"green","i":4,"x":-0.3902,"y":-0.1829},{"id":"g40bm","t":"green","i":5,"x":-0.282,"y":-0.0833},{"id":"g40bm","t":"green","i":6,"x":-0.1969,"y":-0.0279},{"id":"g40bm","t":"green","i":7,"x":-0.1353,"y":0},
{"id":"g60","t":"green","i":0,"x":0,"y":0},{"id":"g60","t":"green","i":1,"x":0.0232,"y":0.0498},{"id":"g60","t":"green","i":2,"x":0.04,"y":0.1123},{"id":"g60","t":"green","i":3,"x":0.0462,"y":0.1851},{"id":"g60","t":"green","i":4,"x":0.038,"y":0.2634},{"id":"g60","t":"green","i":5,"x":0.0131,"y":0.3398},{"id":"g60","t":"green","i":6,"x":-0.0283,"y":0.4055},{"id":"g60","t":"green","i":7,"x":-0.0824,"y":0.4519},{"id":"g60","t":"green","i":8,"x":-0.1429,"y":0.4726},{"id":"g60","t":"green","i":9,"x":-0.2014,"y":0.4655},{"id":"g60","t":"green","i":10,"x":-0.25,"y":0.433},{"id":"g60","t":"green","i":11,"x":-0.2834,"y":0.3814},{"id":"g60","t":"green","i":12,"x":-0.2995,"y":0.3189},{"id":"g60","t":"green","i":13,"x":-0.2991,"y":0.2539},{"id":"g60","t":"green","i":14,"x":-0.2857,"y":0.1926},{"id":"g60","t":"green","i":15,"x":-0.2369,"y":0.0947},{"id":"g60","t":"green","i":16,"x":-0.1819,"y":0.0335},{"id":"g60","t":"green","i":17,"x":-0.1353,"y":0},
{"id":"g60m","t":"green","i":0,"x":0,"y":0},{"id":"g60m","t":"green","i":1,"x":0.0232,"y":-0.0498},{"id":"g60m","t":"green","i":2,"x":0.04,"y":-0.1123},{"id":"g60m","t":"green","i":3,"x":0.0462,"y":-0.1851},{"id":"g60m","t":"green","i":4,"x":0.038,"y":-0.2634},{"id":"g60m","t":"green","i":5,"x":0.0131,"y":-0.3398},{"id":"g60m","t":"green","i":6,"x":-0.0283,"y":-0.4055},{"id":"g60m","t":"green","i":7,"x":-0.0824,"y":-0.4519},{"id":"g60m","t":"green","i":8,"x":-0.1429,"y":-0.4726},{"id":"g60m","t":"green","i":9,"x":-0.2014,"y":-0.4655},{"id":"g60m","t":"green","i":10,"x":-0.25,"y":-0.433},{"id":"g60m","t":"green","i":11,"x":-0.2834,"y":-0.3814},{"id":"g60m","t":"green","i":12,"x":-0.2995,"y":-0.3189},{"id":"g60m","t":"green","i":13,"x":-0.2991,"y":-0.2539},{"id":"g60m","t":"green","i":14,"x":-0.2857,"y":-0.1926},{"id":"g60m","t":"green","i":15,"x":-0.2369,"y":-0.0947},{"id":"g60m","t":"green","i":16,"x":-0.1819,"y":-0.0335},{"id":"g60m","t":"green","i":17,"x":-0.1353,"y":0},
{"id":"g80","t":"green","i":0,"x":0,"y":0},{"id":"g80","t":"green","i":1,"x":0.0039,"y":0.0511},{"id":"g80","t":"green","i":2,"x":-0.0026,"y":0.103},{"id":"g80","t":"green","i":3,"x":-0.0192,"y":0.151},{"id":"g80","t":"green","i":4,"x":-0.0442,"y":0.1906},{"id":"g80","t":"green","i":5,"x":-0.1072,"y":0.2339},{"id":"g80","t":"green","i":6,"x":-0.1645,"y":0.2273},{"id":"g80","t":"green","i":7,"x":-0.1983,"y":0.1871},{"id":"g80","t":"green","i":8,"x":-0.2065,"y":0.1351},{"id":"g80","t":"green","i":9,"x":-0.1965,"y":0.0865},{"id":"g80","t":"green","i":10,"x":-0.1774,"y":0.0478},{"id":"g80","t":"green","i":11,"x":-0.1558,"y":0.0196},{"id":"g80","t":"green","i":12,"x":-0.1353,"y":0},
{"id":"g80m","t":"green","i":0,"x":0,"y":0},{"id":"g80m","t":"green","i":1,"x":0.0039,"y":-0.0511},{"id":"g80m","t":"green","i":2,"x":-0.0026,"y":-0.103},{"id":"g80m","t":"green","i":3,"x":-0.0192,"y":-0.151},{"id":"g80m","t":"green","i":4,"x":-0.0442,"y":-0.1906},{"id":"g80m","t":"green","i":5,"x":-0.1072,"y":-0.2339},{"id":"g80m","t":"green","i":6,"x":-0.1645,"y":-0.2273},{"id":"g80m","t":"green","i":7,"x":-0.1983,"y":-0.1871},{"id":"g80m","t":"green","i":8,"x":-0.2065,"y":-0.1351},{"id":"g80m","t":"green","i":9,"x":-0.1965,"y":-0.0865},{"id":"g80m","t":"green","i":10,"x":-0.1774,"y":-0.0478},{"id":"g80m","t":"green","i":11,"x":-0.1558,"y":-0.0196},{"id":"g80m","t":"green","i":12,"x":-0.1353,"y":0},
{"id":"g100","t":"green","i":0,"x":0,"y":0},{"id":"g100","t":"green","i":1,"x":-0.0129,"y":0.0461},{"id":"g100","t":"green","i":2,"x":-0.0324,"y":0.084},{"id":"g100","t":"green","i":3,"x":-0.08,"y":0.1302},{"id":"g100","t":"green","i":4,"x":-0.1232,"y":0.1399},{"id":"g100","t":"green","i":5,"x":-0.1521,"y":0.1257},{"id":"g100","t":"green","i":6,"x":-0.1659,"y":0.1007},{"id":"g100","t":"green","i":7,"x":-0.1682,"y":0.0738},{"id":"g100","t":"green","i":8,"x":-0.1633,"y":0.0495},{"id":"g100","t":"green","i":9,"x":-0.1549,"y":0.0291},{"id":"g100","t":"green","i":10,"x":-0.1451,"y":0.0128},{"id":"g100","t":"green","i":11,"x":-0.1353,"y":0},
{"id":"g100m","t":"green","i":0,"x":0,"y":0},{"id":"g100m","t":"green","i":1,"x":-0.0129,"y":-0.0461},{"id":"g100m","t":"green","i":2,"x":-0.0324,"y":-0.084},{"id":"g100m","t":"green","i":3,"x":-0.08,"y":-0.1302},{"id":"g100m","t":"green","i":4,"x":-0.1232,"y":-0.1399},{"id":"g100m","t":"green","i":5,"x":-0.1521,"y":-0.1257},{"id":"g100m","t":"green","i":6,"x":-0.1659,"y":-0.1007},{"id":"g100m","t":"green","i":7,"x":-0.1682,"y":-0.0738},{"id":"g100m","t":"green","i":8,"x":-0.1633,"y":-0.0495},{"id":"g100m","t":"green","i":9,"x":-0.1549,"y":-0.0291},{"id":"g100m","t":"green","i":10,"x":-0.1451,"y":-0.0128},{"id":"g100m","t":"green","i":11,"x":-0.1353,"y":0},
{"id":"g120","t":"green","i":0,"x":0,"y":0},{"id":"g120","t":"green","i":1,"x":-0.0257,"y":0.037},{"id":"g120","t":"green","i":2,"x":-0.0512,"y":0.0622},{"id":"g120","t":"green","i":3,"x":-0.0944,"y":0.0854},{"id":"g120","t":"green","i":4,"x":-0.1239,"y":0.0853},{"id":"g120","t":"green","i":5,"x":-0.1406,"y":0.0741},{"id":"g120","t":"green","i":6,"x":-0.1481,"y":0.0592},{"id":"g120","t":"green","i":7,"x":-0.1497,"y":0.0441},{"id":"g120","t":"green","i":8,"x":-0.1478,"y":0.0305},{"id":"g120","t":"green","i":9,"x":-0.1442,"y":0.0186},{"id":"g120","t":"green","i":10,"x":-0.1399,"y":0.0085},{"id":"g120","t":"green","i":11,"x":-0.1353,"y":0},
{"id":"g120m","t":"green","i":0,"x":0,"y":0},{"id":"g120m","t":"green","i":1,"x":-0.0257,"y":-0.037},{"id":"g120m","t":"green","i":2,"x":-0.0512,"y":-0.0622},{"id":"g120m","t":"green","i":3,"x":-0.0944,"y":-0.0854},{"id":"g120m","t":"green","i":4,"x":-0.1239,"y":-0.0853},{"id":"g120m","t":"green","i":5,"x":-0.1406,"y":-0.0741},{"id":"g120m","t":"green","i":6,"x":-0.1481,"y":-0.0592},{"id":"g120m","t":"green","i":7,"x":-0.1497,"y":-0.0441},{"id":"g120m","t":"green","i":8,"x":-0.1478,"y":-0.0305},{"id":"g120m","t":"green","i":9,"x":-0.1442,"y":-0.0186},{"id":"g120m","t":"green","i":10,"x":-0.1399,"y":-0.0085},{"id":"g120m","t":"green","i":11,"x":-0.1353,"y":0},
{"id":"g140","t":"green","i":0,"x":0,"y":0},{"id":"g140","t":"green","i":1,"x":-0.0346,"y":0.0255},{"id":"g140","t":"green","i":2,"x":-0.0622,"y":0.0406},{"id":"g140","t":"green","i":3,"x":-0.1001,"y":0.0516},{"id":"g140","t":"green","i":4,"x":-0.1217,"y":0.0496},{"id":"g140","t":"green","i":5,"x":-0.133,"y":0.0425},{"id":"g140","t":"green","i":6,"x":-0.1383,"y":0.0341},{"id":"g140","t":"green","i":7,"x":-0.1401,"y":0.0257},{"id":"g140","t":"green","i":8,"x":-0.1399,"y":0.0181},{"id":"g140","t":"green","i":9,"x":-0.138,"y":0.0082},{"id":"g140","t":"green","i":10,"x":-0.1353,"y":0},
{"id":"g140m","t":"green","i":0,"x":0,"y":0},{"id":"g140m","t":"green","i":1,"x":-0.0346,"y":-0.0255},{"id":"g140m","t":"green","i":2,"x":-0.0622,"y":-0.0406},{"id":"g140m","t":"green","i":3,"x":-0.1001,"y":-0.0516},{"id":"g140m","t":"green","i":4,"x":-0.1217,"y":-0.0496},{"id":"g140m","t":"green","i":5,"x":-0.133,"y":-0.0425},{"id":"g140m","t":"green","i":6,"x":-0.1383,"y":-0.0341},{"id":"g140m","t":"green","i":7,"x":-0.1401,"y":-0.0257},{"id":"g140m","t":"green","i":8,"x":-0.1399,"y":-0.0181},{"id":"g140m","t":"green","i":9,"x":-0.138,"y":-0.0082},{"id":"g140m","t":"green","i":10,"x":-0.1353,"y":0},
{"id":"g160","t":"green","i":0,"x":0,"y":0},{"id":"g160","t":"green","i":1,"x":-0.0397,"y":0.013},{"id":"g160","t":"green","i":2,"x":-0.0678,"y":0.02},{"id":"g160","t":"green","i":3,"x":-0.1022,"y":0.0244},{"id":"g160","t":"green","i":4,"x":-0.1199,"y":0.023},{"id":"g160","t":"green","i":5,"x":-0.1333,"y":0.0157},{"id":"g160","t":"green","i":6,"x":-0.136,"y":0.0085},{"id":"g160","t":"green","i":7,"x":-0.1353,"y":0},
{"id":"g160m","t":"green","i":0,"x":0,"y":0},{"id":"g160m","t":"green","i":1,"x":-0.0397,"y":-0.013},{"id":"g160m","t":"green","i":2,"x":-0.0678,"y":-0.02},{"id":"g160m","t":"green","i":3,"x":-0.1022,"y":-0.0244},{"id":"g160m","t":"green","i":4,"x":-0.1199,"y":-0.023},{"id":"g160m","t":"green","i":5,"x":-0.1333,"y":-0.0157},{"id":"g160m","t":"green","i":6,"x":-0.136,"y":-0.0085},{"id":"g160m","t":"green","i":7,"x":-0.1353,"y":0},
{"id":"n0","t":"navy","i":0,"x":0,"y":0},{"id":"n0","t":"navy","i":1,"x":1.2,"y":0},
{"id":"nlu","t":"navy","i":0,"x":-1.05,"y":0.0605},{"id":"nlu","t":"navy","i":1,"x":-0.135,"y":0},
{"id":"nll","t":"navy","i":0,"x":-1.05,"y":-0.046},{"id":"nll","t":"navy","i":1,"x":-0.135,"y":0}
]
},
"hconcat":[
{
"width":467,"height":466,
"title":{"text":"(a)  The Koebe function  z/(1−z)²","orient":"bottom","anchor":"middle","dx":23,"offset":22,"font":"Liberation Serif","fontSize":20,"fontWeight":"normal","color":"#000"},
"encoding":{
"x":{"field":"x","type":"quantitative","scale":{"domain":[-1,1],"nice":false,"zero":false},"axis":{"title":null,"orient":"bottom","offset":-233,"grid":false,"values":[-1,-0.9,-0.8,-0.7,-0.6,-0.5,-0.4,-0.3,-0.2,-0.1,0,0.1,0.2,0.3,0.4,0.5,0.6,0.7,0.8,0.9,1],"domainColor":"#111","domainWidth":1.2,"tickColor":"#666","tickSize":-5,"labelPadding":16,"labelFont":"Liberation Serif","labelFontSize":12,"labelFontWeight":"bold","labelColor":"#000","labelFlush":false,"labelOverlap":false,"labelBound":false,"labelExpr":"abs(abs(datum.value)-0.5)<0.01 || abs(abs(datum.value)-1)<0.01 ? (datum.value<0 ? '– ' + format(abs(datum.value),'.1f') : format(datum.value,'.1f')) : ''"}},
"y":{"field":"y","type":"quantitative","scale":{"domain":[-1,1],"nice":false,"zero":false},"axis":{"title":null,"orient":"left","offset":-233.5,"grid":false,"values":[-1,-0.9,-0.8,-0.7,-0.6,-0.5,-0.4,-0.3,-0.2,-0.1,0,0.1,0.2,0.3,0.4,0.5,0.6,0.7,0.8,0.9,1],"domainColor":"#111","domainWidth":1.2,"tickColor":"#666","tickSize":-5,"labelPadding":14,"labelFont":"Liberation Serif","labelFontSize":12,"labelFontWeight":"bold","labelColor":"#000","labelFlush":false,"labelOverlap":false,"labelBound":false,"labelExpr":"abs(abs(datum.value)-0.5)<0.01 || abs(abs(datum.value)-1)<0.01 ? (datum.value<0 ? '– ' + format(abs(datum.value),'.1f') : format(datum.value,'.1f')) : ''"}},
"color":{"field":"t","type":"nominal","scale":{"domain":["red","green","navy"],"range":["#e8272d","#6abd46","#2b2b78"]},"legend":null},
"detail":{"field":"id","type":"nominal"},
"order":{"field":"i","type":"quantitative"}
},
"layer":[
{"data":{"name":"a_closed"},"mark":{"type":"line","interpolate":"cardinal-closed","clip":true,"strokeWidth":1.3}},
{"data":{"name":"a_open"},"mark":{"type":"line","interpolate":"cardinal","clip":true,"strokeWidth":1.3}}
]
},
{
"width":467,"height":466,
"title":{"text":"(b)  The log-harmonic Koebe mapping f₀(z)","orient":"bottom","anchor":"middle","dx":51,"offset":22,"font":"Liberation Serif","fontSize":20,"fontWeight":"normal","color":"#000"},
"encoding":{
"x":{"field":"x","type":"quantitative","scale":{"domain":[-1,1],"nice":false,"zero":false},"axis":{"title":null,"orient":"bottom","offset":-233,"grid":false,"values":[-1,-0.9,-0.8,-0.7,-0.6,-0.5,-0.4,-0.3,-0.2,-0.1,0,0.1,0.2,0.3,0.4,0.5,0.6,0.7,0.8,0.9,1],"domainColor":"#777","domainWidth":1.2,"tickColor":"#777","tickSize":-5,"labelPadding":16,"labelFont":"Liberation Serif","labelFontSize":12,"labelFontWeight":"bold","labelColor":"#000","labelFlush":false,"labelOverlap":false,"labelBound":false,"labelExpr":"abs(abs(datum.value)-0.5)<0.01 || abs(abs(datum.value)-1)<0.01 ? (datum.value<0 ? '– ' + format(abs(datum.value),'.1f') : format(datum.value,'.1f')) : ''"}},
"y":{"field":"y","type":"quantitative","scale":{"domain":[-1,1],"nice":false,"zero":false},"axis":{"title":null,"orient":"left","offset":-233.5,"grid":false,"values":[-1,-0.9,-0.8,-0.7,-0.6,-0.5,-0.4,-0.3,-0.2,-0.1,0,0.1,0.2,0.3,0.4,0.5,0.6,0.7,0.8,0.9,1],"domainColor":"#777","domainWidth":1.2,"tickColor":"#777","tickSize":-5,"labelPadding":14,"labelFont":"Liberation Serif","labelFontSize":12,"labelFontWeight":"bold","labelColor":"#000","labelFlush":false,"labelOverlap":false,"labelBound":false,"labelExpr":"abs(abs(datum.value)-0.5)<0.01 || abs(abs(datum.value)-1)<0.01 ? (datum.value<0 ? '– ' + format(abs(datum.value),'.1f') : format(datum.value,'.1f')) : ''"}},
"color":{"field":"t","type":"nominal","scale":{"domain":["red","green","navy"],"range":["#e8272d","#6abd46","#2b2b78"]},"legend":null},
"detail":{"field":"id","type":"nominal"},
"order":{"field":"i","type":"quantitative"}
},
"layer":[
{"data":{"name":"b_closed"},"mark":{"type":"line","interpolate":"cardinal-closed","clip":true,"strokeWidth":1.3}},
{"data":{"name":"b_open"},"mark":{"type":"line","interpolate":"cardinal","clip":true,"strokeWidth":1.3}}
]
}
]
}
